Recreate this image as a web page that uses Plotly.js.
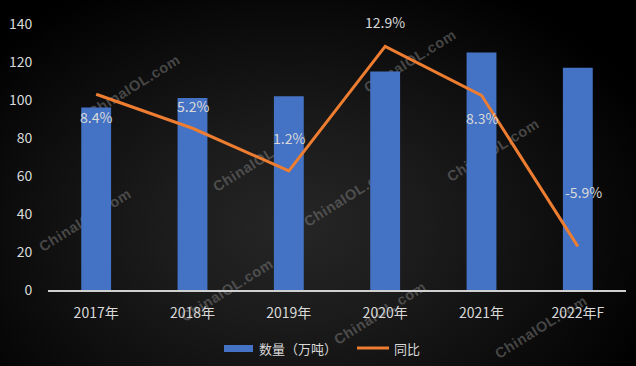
<!DOCTYPE html>
<html>
<head>
<meta charset="utf-8">
<script src="https://cdn.plot.ly/plotly-3.0.1.min.js"></script>
<style>
  html, body { margin:0; padding:0; }
  #wrap {
    position:relative; width:636px; height:366px; overflow:hidden;
    background: radial-gradient(ellipse 62% 75% at 46% 62%, #262626 0%, #1b1b1b 35%, #0d0d0d 70%, #000 100%);
  }
  #wm { position:absolute; left:0; top:0; width:636px; height:366px; }
  .wmt {
    position:absolute; font-family:"Liberation Sans", Arial, sans-serif; font-weight:bold;
    font-size:14.5px; letter-spacing:0.6px; color:rgba(120,120,120,0.55); white-space:nowrap;
    transform:translate(-50%,-50%) rotate(-32deg);
  }
  #chart { position:absolute; left:0; top:0; width:636px; height:366px; }
</style>
</head>
<body>
<div id="wrap">
  <div id="wm"></div>
  <div id="chart"></div>
</div>
<script>
// ---- data ----
const categories = ["2017年", "2018年", "2019年", "2020年", "2021年", "2022年F"];
const quantity = [96, 101, 102, 115, 125, 117];      // 数量（万吨）
const growth = [8.4, 5.2, 1.2, 12.9, 8.3, -5.9];      // 同比 (%)
const growthLabels = ["8.4%", "5.2%", "1.2%", "12.9%", "8.3%", "-5.9%"];
const yTickVals = [0, 20, 40, 60, 80, 100, 120, 140];
const legendNames = ["数量（万吨）", "同比"];

// label offsets (pixels) for growth data labels
const labelShiftY = [-23, 22, 33, 24, -23, 54];
const labelShiftX = [0, 0, 0, 0, 0, 6];

// watermark text positions (pixel centers, decorative)
const wmPos = [[134,86],[259,160],[350,195],[410,61],[493,150],[85,220],[227,290],[380,313],[541,327]];
const wm = document.getElementById('wm');
wmPos.forEach(p => {
  const d = document.createElement('div');
  d.className = 'wmt';
  d.textContent = 'ChinaIOL.com';
  d.style.left = p[0] + 'px';
  d.style.top = p[1] + 'px';
  wm.appendChild(d);
});

const font = "'Noto Sans CJK SC', 'Microsoft YaHei', sans-serif";
const textColor = "#d9d9d9";

const traces = [
  {
    type: 'bar', x: categories, y: quantity, name: legendNames[0],
    marker: { color: '#4472C4' }, hoverinfo: 'x+y', showlegend: false
  },
  {
    type: 'scatter', mode: 'lines', x: categories, y: growth, name: legendNames[1],
    yaxis: 'y2', line: { color: '#ED7D31', width: 3 }, showlegend: false
  }
];

const annotations = categories.map((c, i) => ({
  x: c, y: growth[i], xref: 'x', yref: 'y2', text: growthLabels[i], showarrow: false,
  yshift: labelShiftY[i], xshift: labelShiftX[i],
  font: { family: font, size: 14, color: textColor }
}));

// custom legend
const L = 48, W = 578, T = 24, H = 266;
const px = v => (v - L) / W;
const py = v => (T + H - v) / H;
annotations.push({
  xref: 'paper', yref: 'paper', x: px(257), y: py(348), xanchor: 'left', yanchor: 'middle',
  text: legendNames[0], showarrow: false, font: { family: font, size: 13, color: textColor }
});
annotations.push({
  xref: 'paper', yref: 'paper', x: px(392), y: py(348), xanchor: 'left', yanchor: 'middle',
  text: legendNames[1], showarrow: false, font: { family: font, size: 13, color: textColor }
});
const shapes = [
  { type: 'rect', xref: 'paper', yref: 'paper', x0: px(224), x1: px(253), y0: py(345), y1: py(352),
    fillcolor: '#4472C4', line: { width: 0 } },
  { type: 'line', xref: 'paper', yref: 'paper', x0: px(357), x1: px(389), y0: py(348), y1: py(348),
    line: { color: '#ED7D31', width: 3 } }
];

const layout = {
  width: 636, height: 366,
  margin: { l: L, r: 636 - L - W, t: T, b: 366 - T - H, pad: 0 },
  paper_bgcolor: 'rgba(0,0,0,0)', plot_bgcolor: 'rgba(0,0,0,0)',
  font: { family: font, size: 14, color: textColor },
  bargap: 0.69,
  showlegend: false,
  xaxis: {
    type: 'category', showline: true, linecolor: '#d0d0d0', linewidth: 1.5,
    showgrid: false, zeroline: false, ticks: 'outside', ticklen: 10, tickcolor: 'rgba(0,0,0,0)',
    tickfont: { family: font, size: 14, color: textColor }
  },
  yaxis: {
    range: [0, 140], tickvals: yTickVals, showgrid: false, zeroline: false, showline: false,
    ticks: 'outside', ticklen: 12, tickcolor: 'rgba(0,0,0,0)',
    tickfont: { family: font, size: 14, color: textColor }
  },
  yaxis2: { overlaying: 'y', range: [-10, 15], visible: false, showgrid: false, zeroline: false },
  annotations: annotations,
  shapes: shapes
};

Plotly.newPlot('chart', traces, layout, { displayModeBar: false, staticPlot: true });
</script>
</body>
</html>
